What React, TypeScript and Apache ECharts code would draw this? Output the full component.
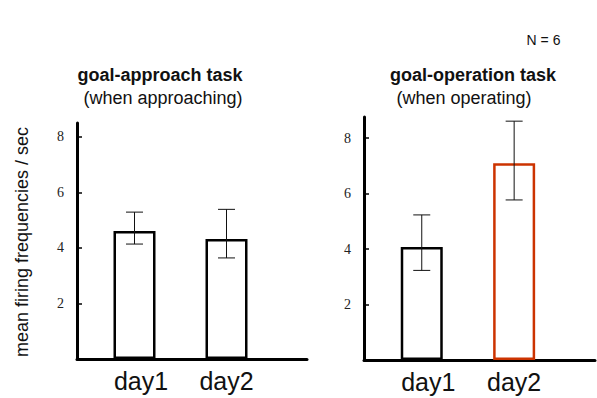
import React, { useEffect, useRef } from "react";
import * as echarts from "echarts";

const categories = ["day1", "day2"];
const yTicks = [2, 4, 6, 8];

const approachMeans = [4.61, 4.32];
const approachUpper = [5.29, 5.39];
const approachLower = [4.14, 3.64];

const operationMeans = [4.07, 7.09];
const operationUpper = [5.23, 8.61];
const operationLower = [3.23, 5.77];

const panelTitles = ["goal-approach task", "goal-operation task"];
const panelSubtitles = ["(when approaching)", "(when operating)"];
const yAxisName = "mean firing frequencies / sec";
const nLabel = "N = 6";

// layout: 10 category slots per panel, bars in slots 2 and 6
const SLOT_COUNT = 10;
const SLOT_INDEX = [2, 6];

const SANS = "'Liberation Sans', Arial, Helvetica, sans-serif";
const SERIF = "'Liberation Serif', 'Times New Roman', Times, serif";
const RED = "#cc3300";

function slotCategories() {
  const arr: any[] = [];
  for (let i = 0; i < SLOT_COUNT; i++) arr.push("");
  SLOT_INDEX.forEach((s, k) => {
    arr[s] = {
      value: categories[k],
      textStyle: k === 0 ? { padding: [0, 0, 0, 13] } : {},
    };
  });
  return arr;
}

function slotValues(vals: number[], colors: string[]) {
  const arr: any[] = [];
  for (let i = 0; i < SLOT_COUNT; i++) arr.push("-");
  SLOT_INDEX.forEach((s, k) => {
    arr[s] = {
      value: vals[k],
      itemStyle: { borderColor: colors[k] },
    };
  });
  return arr;
}

function errData(lower: number[], upper: number[]) {
  return SLOT_INDEX.map((s, k) => [s, lower[k], upper[k]]);
}

const errRender = (params: any, api: any) => {
  const x = api.value(0);
  const lo = api.coord([x, api.value(1)]);
  const hi = api.coord([x, api.value(2)]);
  const half = 8.5;
  const st = { stroke: "#111", lineWidth: 1 };
  return {
    type: "group",
    children: [
      { type: "line", shape: { x1: lo[0], y1: lo[1], x2: hi[0], y2: hi[1] }, style: st },
      { type: "line", shape: { x1: lo[0] - half, y1: lo[1], x2: lo[0] + half, y2: lo[1] }, style: st },
      { type: "line", shape: { x1: hi[0] - half, y1: hi[1], x2: hi[0] + half, y2: hi[1] }, style: st },
    ],
  };
};

export default function App() {
  const ref = useRef<HTMLDivElement>(null);
  useEffect(() => {
    if (!ref.current) return;
    const chart = echarts.init(ref.current, null, { renderer: "svg" });

    const xAxisBase = (gridIndex: number) => ({
      type: "category",
      gridIndex,
      data: slotCategories(),
      axisLine: { show: true, lineStyle: { color: "#000", width: 3 } },
      axisTick: { show: false },
      axisLabel: {
        interval: 0,
        margin: 9,
        color: "#111",
        fontFamily: SANS,
        fontSize: 25,
      },
      splitLine: { show: false },
    });

    const yAxisBase = (gridIndex: number, max: number) => ({
      type: "value",
      gridIndex,
      min: 0,
      max,
      interval: 2,
      axisLine: { show: true, lineStyle: { color: "#000", width: 3 } },
      axisTick: {
        show: true,
        inside: true,
        length: 5,
        customValues: yTicks,
        lineStyle: { color: "#000", width: 1.5 },
      },
      axisLabel: {
        customValues: yTicks,
        margin: 13,
        color: "#222",
        fontFamily: SERIF,
        fontSize: 14,
      },
      splitLine: { show: false },
    });

    chart.setOption({
      animation: false,
      backgroundColor: "#fff",
      grid: [
        { left: 77, top: 123, width: 230, height: 236 },
        { left: 364, top: 117, width: 231, height: 243 },
      ],
      xAxis: [xAxisBase(0), xAxisBase(1)],
      yAxis: [yAxisBase(0, 8.5), yAxisBase(1, 8.76)],
      series: [
        {
          type: "bar",
          xAxisIndex: 0,
          yAxisIndex: 0,
          barWidth: 42,
          data: slotValues(approachMeans, ["#000", "#000"]),
          itemStyle: { color: "#fff", borderColor: "#000", borderWidth: 2.5 },
        },
        {
          type: "custom",
          xAxisIndex: 0,
          yAxisIndex: 0,
          renderItem: errRender,
          data: errData(approachLower, approachUpper),
          z: 5,
        },
        {
          type: "bar",
          xAxisIndex: 1,
          yAxisIndex: 1,
          barWidth: 42,
          data: slotValues(operationMeans, ["#000", RED]),
          itemStyle: { color: "#fff", borderColor: "#000", borderWidth: 2.5 },
        },
        {
          type: "custom",
          xAxisIndex: 1,
          yAxisIndex: 1,
          renderItem: errRender,
          data: errData(operationLower, operationUpper),
          z: 5,
        },
      ],
      graphic: [
        {
          type: "text",
          x: 543.5,
          y: 40,
          style: { text: nLabel, font: `14px ${SANS}`, fill: "#111", align: "center", verticalAlign: "middle" },
        },
        {
          type: "text",
          x: 160,
          y: 75,
          style: { text: panelTitles[0], font: `bold 18px ${SANS}`, fill: "#111", align: "center", verticalAlign: "middle" },
        },
        {
          type: "text",
          x: 163,
          y: 98,
          style: { text: panelSubtitles[0], font: `18px ${SANS}`, fill: "#111", align: "center", verticalAlign: "middle" },
        },
        {
          type: "text",
          x: 473,
          y: 75,
          style: { text: panelTitles[1], font: `bold 18px ${SANS}`, fill: "#111", align: "center", verticalAlign: "middle" },
        },
        {
          type: "text",
          x: 464,
          y: 98,
          style: { text: panelSubtitles[1], font: `18px ${SANS}`, fill: "#111", align: "center", verticalAlign: "middle" },
        },
        {
          type: "text",
          x: 22,
          y: 242,
          rotation: Math.PI / 2,
          style: { text: yAxisName, font: `18px ${SANS}`, fill: "#111", align: "center", verticalAlign: "middle" },
        },
      ],
    });
    return () => chart.dispose();
  }, []);
  return (
    <div
      ref={ref}
      style={{ position: "absolute", left: 0, top: 0, width: 597, height: 398, background: "#fff" }}
    />
  );
}
